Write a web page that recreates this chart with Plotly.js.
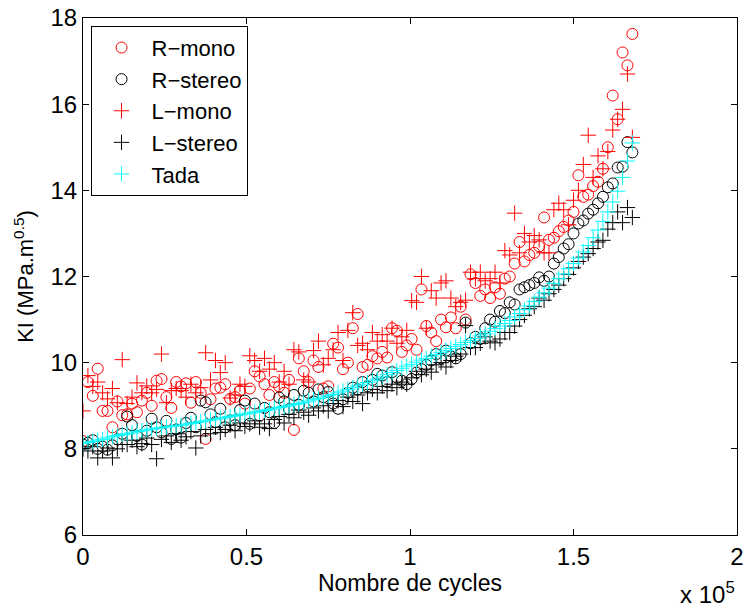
<!DOCTYPE html>
<html>
<head>
<meta charset="utf-8">
<script src="https://cdn.plot.ly/plotly-3.0.1.min.js"></script>
<style>html,body{margin:0;padding:0;background:#fff;}#chart{width:744px;height:610px;}</style>
</head>
<body>
<div id="chart"></div>
<script>
// Number of cycles (raw)
const cycles = [
  0,1500,3000,4500,6000,7500,9000,10500,12000,13500,
  15000,16500,18000,19500,21000,22500,24000,25500,27000,28500,
  30000,31500,33000,34500,36000,37500,39000,40500,42000,43500,
  45000,46500,48000,49500,51000,52500,54000,55500,57000,58500,
  60000,61500,63000,64500,66000,67500,69000,70500,72000,73500,
  75000,76500,78000,79500,81000,82500,84000,85500,87000,88500,
  90000,91500,93000,94500,96000,97500,99000,100500,102000,103500,
  105000,106500,108000,109500,111000,112500,114000,115500,117000,118500,
  120000,121500,123000,124500,126000,127500,129000,130500,132000,133500,
  135000,136500,138000,139500,141000,142500,144000,145500,147000,148500,
  150000,151500,153000,154500,156000,157500,159000,160500,162000,163500,
  165000,166500,168000
];

const rMono = [
  8.18,9.55,9.23,9.86,8.88,8.88,8.50,9.10,8.78,8.80,
  9.05,8.85,9.12,9.30,9.00,9.58,9.62,9.20,8.95,9.55,
  9.45,9.52,9.07,9.55,9.30,8.23,9.15,9.40,9.42,9.50,
  9.16,9.20,9.35,9.05,9.40,9.80,9.68,9.50,9.25,9.55,
  9.45,9.30,9.60,8.44,10.10,9.80,9.55,10.05,9.90,9.40,
  9.45,10.44,10.35,9.85,10.00,10.80,11.13,9.90,9.95,10.15,
  10.10,10.25,10.12,10.80,10.74,10.25,10.40,10.55,10.30,11.70,
  10.85,10.70,10.50,11.00,10.82,11.05,10.80,11.30,11.00,12.05,
  11.85,11.55,11.70,11.50,11.75,11.60,11.95,12.00,12.30,12.80,
  12.35,12.50,12.55,12.70,13.37,12.85,12.90,13.05,13.15,13.30,
  13.50,14.35,13.85,13.90,14.10,14.20,14.50,15.00,16.20,15.65,
  17.20,16.90,17.63
];

const rStereo = [
  8.10,8.14,8.20,8.00,8.05,7.98,8.08,8.22,8.35,8.75,
  8.55,8.30,8.10,8.42,8.70,8.50,8.38,8.65,8.23,8.45,
  8.26,8.60,8.72,8.50,9.12,9.08,8.80,8.62,8.93,8.50,
  8.66,8.55,8.90,9.12,8.58,9.05,8.77,8.95,8.85,8.60,
  9.19,9.10,8.92,9.25,9.02,9.35,9.30,9.10,9.38,9.20,
  9.32,9.05,8.93,9.15,9.30,9.42,9.38,9.55,9.45,9.60,
  9.74,9.70,9.55,9.78,9.65,9.58,9.50,9.62,9.77,9.85,
  9.95,10.05,10.20,10.10,10.28,10.15,10.10,10.20,10.93,10.45,
  10.60,10.55,10.80,11.00,10.95,11.20,11.15,11.40,11.35,11.70,
  11.75,11.80,11.85,11.98,11.90,12.00,12.30,12.45,12.65,12.75,
  13.00,13.23,13.30,13.46,13.55,13.70,13.85,14.07,14.16,14.53,
  14.55,15.12,14.88
];

const lMono = [
  8.88,9.70,9.45,9.55,9.30,9.16,9.40,9.07,10.07,9.05,
  9.20,9.53,9.30,9.46,9.30,9.38,10.20,9.07,9.35,9.40,
  9.35,9.20,9.50,9.30,9.42,10.23,9.60,10.05,9.77,10.00,
  9.18,9.25,9.50,9.45,10.16,10.05,9.80,10.10,9.85,10.00,
  9.55,9.80,9.50,10.30,10.25,9.60,9.55,10.28,10.50,9.95,
  10.10,10.30,10.70,10.05,10.75,11.16,10.40,10.45,10.30,10.70,
  10.50,10.65,10.50,10.80,10.45,10.60,10.75,11.44,11.40,12.00,
  10.80,11.67,11.50,11.85,11.90,11.50,11.30,11.40,11.45,12.10,
  11.95,12.10,11.90,11.95,12.10,11.85,12.60,12.50,13.47,12.55,
  13.00,12.80,12.95,12.85,12.55,12.55,13.55,13.70,13.55,13.20,
  13.77,14.00,14.60,15.28,14.30,14.80,14.50,14.90,15.40,15.65,
  15.88,16.70,15.23
];

const lStereo = [
  8.00,7.95,8.05,7.79,7.95,8.02,7.79,8.00,8.10,8.10,
  8.20,8.05,8.12,8.25,8.10,7.77,8.22,8.30,8.15,8.35,
  8.20,8.28,8.40,8.02,8.30,8.45,8.35,8.50,8.38,8.45,
  8.55,8.42,8.60,8.52,8.58,8.65,8.50,8.58,8.47,8.68,
  8.75,8.60,8.80,8.72,8.90,8.85,8.78,8.95,8.88,9.00,
  8.88,9.05,9.12,8.98,9.20,9.10,9.25,9.05,9.30,9.38,
  9.30,9.45,9.35,9.50,9.42,9.55,9.50,9.65,9.80,9.72,
  9.85,9.78,9.95,10.00,9.90,10.05,10.15,10.20,10.86,10.35,
  10.35,10.45,10.60,10.50,10.46,10.55,10.70,10.70,10.85,11.00,
  11.10,11.25,11.30,11.50,11.45,11.60,11.70,11.80,11.95,12.05,
  12.20,12.35,12.45,12.53,12.65,12.80,12.84,13.10,13.25,13.50,
  13.25,13.60,13.37
];

const tada = [
  8.12,8.15,8.17,8.20,8.22,8.25,8.28,8.31,8.33,8.35,
  8.37,8.40,8.42,8.44,8.46,8.48,8.49,8.51,8.52,8.54,
  8.55,8.57,8.59,8.61,8.63,8.65,8.67,8.69,8.71,8.73,
  8.75,8.77,8.79,8.81,8.83,8.85,8.87,8.89,8.91,8.93,
  8.96,8.98,9.00,9.03,9.05,9.08,9.11,9.14,9.17,9.20,
  9.23,9.26,9.30,9.34,9.38,9.42,9.46,9.50,9.54,9.58,
  9.62,9.67,9.72,9.77,9.82,9.87,9.92,9.96,10.01,10.06,
  10.10,10.15,10.19,10.24,10.28,10.33,10.38,10.42,10.47,10.51,
  10.56,10.62,10.67,10.73,10.79,10.85,10.91,10.98,11.06,11.14,
  11.23,11.32,11.42,11.52,11.62,11.73,11.84,11.95,12.06,12.18,
  12.30,12.43,12.57,12.72,12.90,13.08,13.28,13.50,13.73,13.98,
  14.30,14.68,15.10
];

const seriesNames = ['R\u2212mono', 'R\u2212stereo', 'L\u2212mono', 'L\u2212stereo', 'Tada'];
const xTickVals = [0, 0.5, 1, 1.5, 2];
const xTickText = ['0', '0.5', '1', '1.5', '2'];
const yTickVals = [6, 8, 10, 12, 14, 16, 18];
const yTickText = ['6', '8', '10', '12', '14', '16', '18'];

const xs = cycles.map(c => c / 1e5);

function mk(name, y, symbol, color, size) {
  return {
    type: 'scatter', mode: 'markers', name: name, x: xs, y: y,
    marker: {symbol: symbol, size: size, color: color, line: {color: color, width: 1}},
    hoverinfo: 'skip'
  };
}

const data = [
  mk(seriesNames[0], rMono, 'circle-open', '#ff0000', 11),
  mk(seriesNames[1], rStereo, 'circle-open', '#000000', 11),
  mk(seriesNames[2], lMono, 'cross-thin-open', '#ff0000', 11),
  mk(seriesNames[3], lStereo, 'cross-thin-open', '#000000', 11),
  mk(seriesNames[4], tada, 'cross-thin-open', '#00ffff', 11)
];

const FONT = 'Liberation Sans, Arial, Helvetica, sans-serif';

const layout = {
  width: 744, height: 610,
  margin: {l: 83, r: 7, t: 18, b: 75},
  paper_bgcolor: '#ffffff', plot_bgcolor: '#ffffff',
  font: {family: FONT, color: '#000000', size: 24},
  showlegend: true,
  xaxis: {
    range: [0, 2], tickmode: 'array', tickvals: xTickVals, ticktext: xTickText,
    ticks: 'inside', ticklen: 6, tickwidth: 1, tickcolor: '#000',
    showline: true, linecolor: '#000', linewidth: 1, mirror: 'ticks',
    showgrid: false, zeroline: false,
    tickfont: {size: 24, family: FONT},
    title: {text: 'Nombre de cycles', font: {size: 23, family: FONT}, standoff: 2}
  },
  yaxis: {
    range: [6, 18], tickmode: 'array', tickvals: yTickVals, ticktext: yTickText,
    ticks: 'inside', ticklen: 6, tickwidth: 1, tickcolor: '#000',
    showline: true, linecolor: '#000', linewidth: 1, mirror: 'ticks',
    showgrid: false, zeroline: false,
    tickfont: {size: 24, family: FONT},
    title: {text: 'KI (MPa.m<sup>0.5</sup>)', font: {size: 22, family: FONT}, standoff: 10}
  },
  legend: {
    x: 0.0115, y: 0.985, xanchor: 'left', yanchor: 'top',
    bgcolor: '#ffffff', bordercolor: '#000000', borderwidth: 1,
    font: {size: 22, family: FONT},
    traceorder: 'normal', itemwidth: 50
  },
  annotations: [{
    xref: 'paper', yref: 'paper', x: 1.0, y: -0.112, xanchor: 'right', yanchor: 'middle',
    text: 'x 10<sup>5</sup>', showarrow: false, font: {size: 24, family: FONT}
  }]
};

Plotly.newPlot('chart', data, layout, {displayModeBar: false, staticPlot: true});
</script>
</body>
</html>
